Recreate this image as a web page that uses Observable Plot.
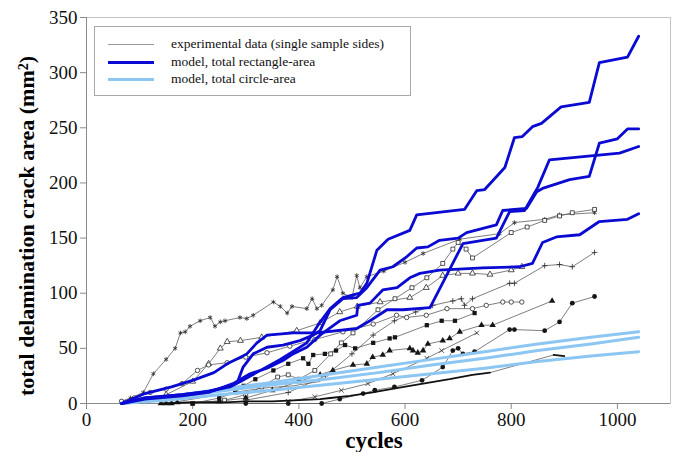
<!DOCTYPE html>
<html><head><meta charset="utf-8">
<script src="https://cdn.jsdelivr.net/npm/d3@7"></script>
<script src="https://cdn.jsdelivr.net/npm/@observablehq/plot@0.6"></script>
<style>
body{margin:0;background:#fff;}
#wrap{position:relative;width:675px;height:452px;font-family:"Liberation Serif","Times New Roman",serif;overflow:hidden;}
#chart svg, #chart svg text{font-family:"Liberation Serif","Times New Roman",serif !important;}
#legend{position:absolute;left:94px;top:26px;width:317px;height:70px;border:1px solid #a8a8a8;box-sizing:border-box;background:#fff;font-size:13.5px;}
.row{position:absolute;left:0;height:16px;width:100%;}
.row .s{position:absolute;left:13px;width:46px;top:8px;}
.row .t{position:absolute;left:76px;top:0;line-height:16px;white-space:nowrap;color:#111;}
#ytitle{position:absolute;left:-273px;top:212px;width:600px;height:28px;line-height:28px;text-align:center;transform:rotate(-90deg);font-weight:bold;font-size:22px;white-space:nowrap;}
#ytitle sup{font-size:14px;line-height:0;vertical-align:0.45em;}
#xtitle{position:absolute;left:274px;top:429px;width:200px;line-height:23px;text-align:center;font-weight:bold;font-size:23px;}
</style></head>
<body>
<div id="wrap">
  <div id="chart"></div>
  <div id="legend"></div>
  <div id="ytitle">total delamination crack area (mm<sup>2</sup>)</div>
  <div id="xtitle">cycles</div>
</div>
<script>
// ---- axis ticks ----
const cycleTicks = [0, 200, 400, 600, 800, 1000];
const areaTicks = [0, 50, 100, 150, 200, 250, 300, 350];

// ---- legend labels ----
const legendLabels = [
  "experimental data (single sample sides)",
  "model, total rectangle-area",
  "model, total circle-area"
];

// ---- model, total rectangle-area (cycles, mm^2) ----
const rectA = [[66,0],[110,5],[180,8],[230,11],[270,15],[290,20],[320,28],[365,40],[415,55],[436,71],[459,86],[483,96],[515,100],[528,109],[547,139],[568,149],[609,157],[622,171],[712,176],[735,193],[750,194],[788,214],[806,241],[821,242],[840,251],[857,254],[894,269],[947,273],[966,309],[1019,314],[1040,333]];
const rectB = [[66,0],[110,5],[180,8],[230,11],[270,16],[284,19],[295,33],[314,45],[340,51],[370,53],[402,57],[427,62],[440,66],[459,85],[483,95],[509,96],[528,105],[553,121],[577,124],[603,133],[622,141],[643,142],[665,148],[700,150],[716,155],[772,162],[784,175],[829,177],[848,192],[859,195],[910,203],[947,206],[966,236],[1000,240],[1019,249],[1040,249]];
const rectC = [[66,0],[110,9],[160,15],[200,21],[240,28],[265,36],[290,42],[302,45],[321,55],[340,62],[390,64],[434,64],[509,68],[534,75],[566,85],[596,85],[647,87],[709,145],[772,150],[797,174],[825,175],[850,196],[872,221],[1004,227],[1040,233]];
const rectD = [[66,0],[110,4],[180,7],[230,10],[276,18],[308,27],[340,32],[370,39],[389,45],[415,51],[440,62],[477,75],[509,80],[511,89],[534,91],[558,103],[585,105],[609,114],[628,118],[665,121],[746,123],[816,124],[840,127],[859,146],[885,151],[929,153],[966,165],[1019,167],[1040,172]];

// ---- model, total circle-area ----
const circ1 = [[66,0],[150,6],[250,13],[350,19],[450,26],[550,33],[650,40],[750,47],[850,54],[950,60],[1040,65]];
const circ2 = [[66,0],[150,5],[250,11],[350,17],[450,22],[550,28],[650,35],[750,41],[850,48],[950,54],[1040,60]];
const circ3 = [[66,0],[150,3],[250,8],[350,12],[450,17],[550,22],[650,27],[750,32],[850,38],[950,43],[1040,47]];

// ---- experimental data (single sample sides) ----
const expAsterisk = [[66,2],[83,5],[107,10],[126,27],[150,40],[167,50],[177,64],[186,65],[195,70],[214,75],[233,78],[242,70],[252,74],[261,75],[289,78],[302,77],[314,80],[352,92],[365,88],[378,82],[387,88],[415,86],[425,95],[434,86],[443,89],[464,103],[472,115],[483,100],[500,96],[509,116],[515,105],[528,115],[560,120],[600,128],[634,136],[703,149],[778,154],[806,164],[863,167],[891,171],[957,173]];
const expSquareOpen = [[200,0],[260,3],[300,8],[330,15],[360,24],[380,26],[400,22],[430,30],[460,45],[480,55],[502,64],[549,85],[581,95],[613,105],[641,114],[671,127],[690,140],[700,146],[715,140],[727,132],[800,155],[830,160],[863,166],[891,170],[915,173],[957,176]];
const expTriangleOpen = [[100,2],[150,8],[200,20],[230,36],[252,50],[265,56],[290,57],[330,60],[396,66],[440,73],[477,83],[510,88],[553,92],[609,96],[640,105],[671,116],[700,118],[727,118],[760,117],[800,121],[820,124]];
const expPlus = [[300,3],[380,10],[450,25],[500,45],[540,62],[580,75],[620,83],[652,89],[690,93],[706,95],[712,89],[727,95],[797,109],[806,109],[863,125],[891,126],[915,124],[957,137]];
const expCircleOpen = [[66,2],[90,5],[120,10],[150,13],[180,18],[209,30],[230,35],[265,37],[300,42],[340,46],[383,52],[430,58],[483,65],[540,72],[584,80],[603,78],[640,80],[679,86],[727,86],[753,89],[784,92],[800,92],[820,92]];
const expSquareFill = [[200,0],[250,5],[280,10],[296,16],[318,22],[352,30],[380,36],[408,41],[418,36],[427,44],[449,45],[470,48],[487,53],[506,50],[540,55],[571,59],[581,60],[641,71],[669,75],[694,75],[731,82]];
const expTriangleFill = [[140,0],[150,0],[160,0],[171,1],[250,2],[300,5],[350,12],[400,20],[440,26],[464,30],[502,35],[528,36],[539,42],[558,44],[571,48],[609,50],[615,48],[624,46],[634,48],[643,54],[671,57],[684,59],[703,65],[744,71],[765,71],[877,93]];
const expCircleFill = [[300,0],[380,0],[443,0],[477,4],[521,9],[543,12],[580,15],[632,21],[671,33],[690,48],[700,50],[709,45],[731,47],[797,67],[806,67],[863,66],[891,74],[915,91],[957,97]];
const expTimes = [[380,2],[430,6],[480,12],[530,18],[577,27],[641,41],[669,48],[735,64]];
const expDash = [[140,0],[200,1],[260,1],[300,2],[350,2],[400,3],[440,4],[459,5],[496,7],[539,10],[584,14],[634,18],[684,22],[727,26],[760,28]];
const expTail = [[760,28],[820,36],[880,44]];
const expShortDash = [[880,44],[900,43]];
const expFaint = [[150,0],[250,8],[333,14],[389,16],[440,20]];

// ---- build tables ----
const toRows = (pts, name) => pts.map(([c, a]) => ({series: name, cycles: c, area: a}));
const rectRows = [["A", rectA], ["B", rectB], ["C", rectC], ["D", rectD]].flatMap(([n, p]) => toRows(p, n));
const circRows = [["1", circ1], ["2", circ2], ["3", circ3]].flatMap(([n, p]) => toRows(p, n));
const expLines = [
  ["asterisk", expAsterisk], ["squareOpen", expSquareOpen], ["triangleOpen", expTriangleOpen],
  ["plus", expPlus], ["circleOpen", expCircleOpen], ["squareFill", expSquareFill],
  ["triangleFill", expTriangleFill], ["circleFill", expCircleFill], ["times", expTimes],
  ["tail", expTail], ["faint", expFaint]
];
const expRows = expLines.flatMap(([n, p]) => toRows(p, n));
const dashRows = [["dash", expDash], ["short", expShortDash]].flatMap(([n, p]) => toRows(p, n));

const markerSpecs = [
  {pts: expAsterisk, symbol: "asterisk", open: true, r: 2.2},
  {pts: expSquareOpen, symbol: "square", open: true, r: 2.2},
  {pts: expTriangleOpen, symbol: "triangle", open: true, r: 2.2},
  {pts: expPlus, symbol: "plus", open: true, r: 2},
  {pts: expCircleOpen, symbol: "circle", open: true, r: 2.2},
  {pts: expSquareFill, symbol: "square", open: false, r: 2.4},
  {pts: expTriangleFill, symbol: "triangle", open: false, r: 2.4},
  {pts: expCircleFill, symbol: "circle", open: false, r: 2.4},
  {pts: expTimes, symbol: "times", open: true, r: 2.2}
];
const markerMarks = markerSpecs.map(s => Plot.dot(toRows(s.pts, s.symbol), {
  x: "cycles", y: "area", symbol: s.symbol, r: s.r,
  fill: s.open ? (s.symbol === "asterisk" || s.symbol === "plus" || s.symbol === "times" ? "none" : "white") : "#151515",
  stroke: s.open ? "#2a2a2a" : "none", strokeWidth: 0.8
}));

const serif = "Liberation Serif";
const chart = Plot.plot({
  width: 675, height: 452,
  marginLeft: 86, marginRight: 5, marginTop: 17, marginBottom: 49,
  x: {domain: [0, 1100]},
  y: {domain: [0, 350]},
  style: {fontFamily: serif, fontSize: "19px", background: "white"},
  marks: [
    Plot.frame({stroke: "#c4c4c4", strokeWidth: 1}),
    Plot.ruleY([0], {stroke: "#8a8a8a"}),
    Plot.ruleX([0], {stroke: "#8a8a8a"}),
    Plot.axisY(areaTicks, {tickSize: 6, tickPadding: 3, stroke: "#8a8a8a", fill: "#111", fontSize: 19, fontFamily: serif, tickFormat: d => String(d), label: null}),
    Plot.axisX(cycleTicks, {tickSize: 6, tickPadding: 3, stroke: "#8a8a8a", fill: "#111", fontSize: 19, fontFamily: serif, tickFormat: d => String(d), label: null}),
    Plot.line(expRows, {x: "cycles", y: "area", z: "series", stroke: "#5e5e5e", strokeWidth: 0.8}),
    ...markerMarks,
    Plot.line(dashRows, {x: "cycles", y: "area", z: "series", stroke: "#111", strokeWidth: 1.8}),
    Plot.line(circRows, {x: "cycles", y: "area", z: "series", stroke: "#8cc6f2", strokeWidth: 3}),
    Plot.line(rectRows, {x: "cycles", y: "area", z: "series", stroke: "#0a0ad2", strokeWidth: 2.8})
  ]
});
document.getElementById("chart").appendChild(chart);

// ---- legend ----
const legendStyles = [
  {color: "#9a9a9a", w: 1},
  {color: "#0a0ad2", w: 3},
  {color: "#8cc6f2", w: 3}
];
const legend = document.getElementById("legend");
const rowTops = [9, 27, 44];
legendLabels.forEach((lab, i) => {
  const row = document.createElement("div");
  row.className = "row";
  row.style.top = rowTops[i] + "px";
  const s = document.createElement("div");
  s.className = "s";
  s.style.borderTop = legendStyles[i].w + "px solid " + legendStyles[i].color;
  s.style.marginTop = (-legendStyles[i].w / 2) + "px";
  const t = document.createElement("div");
  t.className = "t";
  t.textContent = lab;
  row.appendChild(s); row.appendChild(t);
  legend.appendChild(row);
});
</script>
</body></html>
